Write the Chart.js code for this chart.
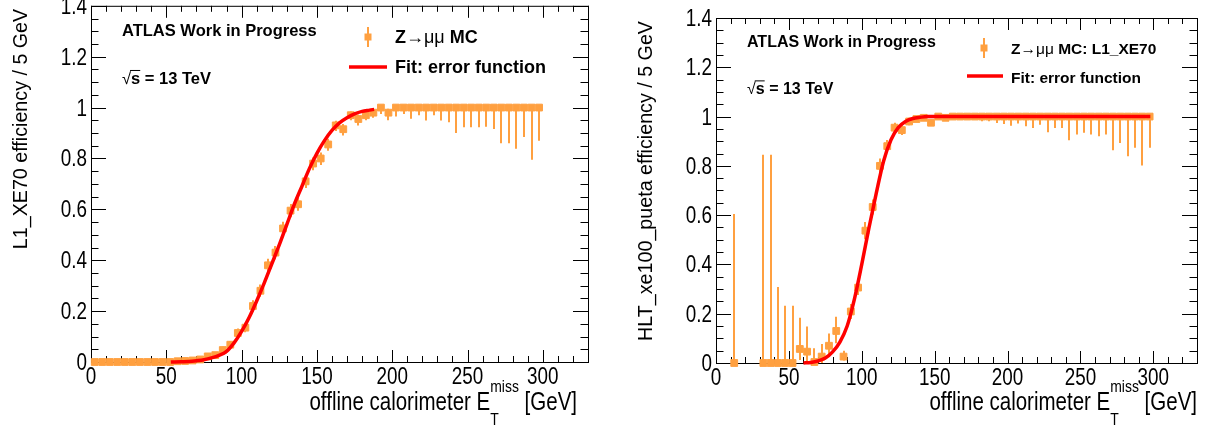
<!DOCTYPE html>
<html>
<head>
<meta charset="utf-8">
<script src="https://cdn.jsdelivr.net/npm/chart.js@4.4.1/dist/chart.umd.min.js"></script>
<style>
  html, body { margin: 0; padding: 0; background: #fff; }
  #wrap { position: relative; width: 1219px; height: 432px; }
  canvas { position: absolute; top: 0; }
  #chartL { left: 0; }
  #chartR { left: 610px; }
</style>
</head>
<body>
<div id="wrap">
  <canvas id="chartL" width="610" height="432"></canvas>
  <canvas id="chartR" width="609" height="432"></canvas>
</div>
<script>
// 5 GeV bins of offline calorimeter MET
const binCenters = [2.5, 7.5, 12.5, 17.5, 22.5, 27.5, 32.5, 37.5, 42.5, 47.5,
  52.5, 57.5, 62.5, 67.5, 72.5, 77.5, 82.5, 87.5, 92.5, 97.5,
  102.5, 107.5, 112.5, 117.5, 122.5, 127.5, 132.5, 137.5, 142.5, 147.5,
  152.5, 157.5, 162.5, 167.5, 172.5, 177.5, 182.5, 187.5, 192.5, 197.5,
  202.5, 207.5, 212.5, 217.5, 222.5, 227.5, 232.5, 237.5, 242.5, 247.5,
  252.5, 257.5, 262.5, 267.5, 272.5, 277.5, 282.5, 287.5, 292.5, 297.5];

// L1_XE70 efficiency (left panel)
const l1Eff = [0, 0, 0, 0, 0, 0, 0, 0, 0, 0,
  0, 0.003, 0.004, 0.006, 0.01, 0.022, 0.027, 0.047, 0.068, 0.114,
  0.135, 0.22, 0.28, 0.38, 0.43, 0.525, 0.595, 0.62, 0.71, 0.78,
  0.80, 0.855, 0.93, 0.915, 0.97, 0.955, 0.97, 0.98, 1, 0.98,
  1, 1, 1, 1, 1, 1, 1, 1, 1, 1,
  1, 1, 1, 1, 1, 1, 1, 1, 1, 1];
const l1ErrLo = [0, 0, 0, 0, 0, 0, 0, 0, 0, 0,
  0, 0.003, 0.004, 0.005, 0.006, 0.008, 0.01, 0.012, 0.014, 0.017,
  0.018, 0.022, 0.024, 0.026, 0.026, 0.026, 0.026, 0.026, 0.026, 0.026,
  0.026, 0.025, 0.022, 0.025, 0.02, 0.025, 0.02, 0.02, 0.025, 0.03,
  0.035, 0.025, 0.044, 0.03, 0.051, 0.03, 0.051, 0.058, 0.10, 0.077,
  0.077, 0.077, 0.075, 0.084, 0.14, 0.14, 0.162, 0.116, 0.205, 0.13];
const l1ErrHi = [0, 0, 0, 0, 0, 0, 0, 0, 0, 0,
  0, 0.004, 0.005, 0.006, 0.007, 0.009, 0.011, 0.013, 0.015, 0.018,
  0.019, 0.023, 0.025, 0.026, 0.026, 0.026, 0.026, 0.026, 0.025, 0.024,
  0.023, 0.022, 0.018, 0.02, 0.015, 0.018, 0.014, 0.012, 0, 0.015,
  0, 0, 0, 0, 0, 0, 0, 0, 0, 0,
  0, 0, 0, 0, 0, 0, 0, 0, 0, 0];
const l1FitX = [53, 60, 65, 70, 75, 80, 85, 90, 95, 100, 105, 110, 115, 120,
  125, 130, 135, 140, 145, 150, 155, 160, 165, 170, 175, 180, 185, 188];
const l1FitY = [0, 0.001, 0.002, 0.005, 0.009, 0.016, 0.026, 0.042, 0.075, 0.12, 0.175, 0.24, 0.31, 0.385,
  0.46, 0.54, 0.62, 0.69, 0.76, 0.82, 0.87, 0.91, 0.94, 0.96, 0.975, 0.985, 0.99, 0.993];

// HLT_xe100_pueta efficiency (right panel), null = empty bin
const hltEff = [null, null, 0, null, null, null, 0, 0, 0, 0,
  0, 0.057, 0.046, 0.004, 0.026, 0.07, 0.13, 0.026, 0.209, 0.306,
  0.537, 0.633, 0.80, 0.88, 0.955, 0.945, 0.98, 0.99, 0.995, 0.975,
  1, 0.995, 1, 1, 1, 1, 1, 1, 1, 1,
  1, 1, 1, 1, 1, 1, 1, 1, 1, 1,
  1, 1, 1, 1, 1, 1, 1, 1, 1, 1];
const hltErrLo = [0, 0, 0, 0, 0, 0, 0, 0, 0, 0,
  0, 0.045, 0.046, 0.004, 0.026, 0.044, 0.05, 0.016, 0.03, 0.03,
  0.035, 0.03, 0.03, 0.025, 0.02, 0.02, 0.015, 0.01, 0.008, 0.012,
  0.005, 0.005, 0.005, 0.005, 0.005, 0.01, 0.019, 0.019, 0.026, 0.03,
  0.037, 0.028, 0.039, 0.046, 0.033, 0.064, 0.046, 0.046, 0.096, 0.073,
  0.066, 0.073, 0.08, 0.073, 0.137, 0.107, 0.161, 0.127, 0.199, 0.127];
const hltErrHi = [0, 0, 0.605, 0, 0, 0, 0.845, 0.845, 0.308, 0.232,
  0.232, 0.127, 0.102, 0.056, 0.051, 0.05, 0.058, 0.024, 0.03, 0.03,
  0.035, 0.03, 0.03, 0.025, 0.02, 0.02, 0.015, 0.01, 0.005, 0.012,
  0, 0.005, 0, 0, 0, 0, 0, 0, 0, 0,
  0, 0, 0, 0, 0, 0, 0, 0, 0, 0,
  0, 0, 0, 0, 0, 0, 0, 0, 0, 0];
const hltFitX = [60, 65, 70, 75, 80, 85, 90, 95, 100, 105, 110, 115, 120, 125,
  130, 135, 140, 145, 150, 200, 250, 298];
const hltFitY = [0, 0.002, 0.008, 0.02, 0.045, 0.085, 0.15, 0.26, 0.40, 0.55, 0.69, 0.82, 0.905, 0.955,
  0.98, 0.992, 0.997, 1, 1, 1, 1, 1];

// axis ticks
const xTickValues = [0, 50, 100, 150, 200, 250, 300];
const xTickLabels = ['0', '50', '100', '150', '200', '250', '300'];
const yTickValues = [0, 0.2, 0.4, 0.6, 0.8, 1, 1.2, 1.4];
const yTickLabels = ['0', '0.2', '0.4', '0.6', '0.8', '1', '1.2', '1.4'];

const ORANGE = '#ffa040';
const RED = '#ff0000';
const SANS = "'Liberation Sans', Arial, Helvetica, sans-serif";
const NARROW_K = 0.82; // ROOT axis font looks condensed

function toPoints(eff, lo, hi) {
    const pts = [];
    binCenters.forEach((x, i) => {
        if (eff[i] === null) return;
        pts.push({ x: x, y: eff[i], lo: lo[i], hi: hi[i] });
    });
    return pts;
}

function toLine(xs, ys) {
    return xs.map((x, i) => ({ x: x, y: ys[i] }));
}

// condensed text: measured and drawn with a horizontal squeeze
function narrowWidth(ctx, text, size) {
    ctx.font = size + 'px ' + SANS;
    return ctx.measureText(text).width * NARROW_K;
}
function narrowText(ctx, text, x, y, size, align) {
    const w = narrowWidth(ctx, text, size);
    let left = x;
    if (align === 'right') left = x - w;
    else if (align === 'center') left = x - w / 2;
    ctx.save();
    ctx.translate(left, y);
    ctx.scale(NARROW_K, 1);
    ctx.textAlign = 'left';
    ctx.fillText(text, 0, 0);
    ctx.restore();
    return w;
}

function drawRuns(ctx, runs, x, y) {
    let cx = x;
    runs.forEach(r => {
        ctx.font = r.font;
        ctx.fillText(r.text, cx, y);
        cx += ctx.measureText(r.text).width;
    });
    return cx;
}

// ROOT style frame with inward ticks on all four sides
const rootFrame = {
    id: 'rootFrame',
    beforeDatasetsDraw(chart) {
        const { ctx, chartArea: a } = chart;
        const xs = chart.scales.x, ys = chart.scales.y;
        ctx.save();
        ctx.strokeStyle = '#000';
        ctx.lineWidth = 1;
        ctx.strokeRect(a.left + 0.5, a.top + 0.5, a.right - a.left, a.bottom - a.top);
        ctx.beginPath();
        for (let v = 0; v <= 330; v += 10) {
            const px = Math.round(xs.getPixelForValue(v)) + 0.5;
            const len = v % 50 === 0 ? 12 : 6;
            ctx.moveTo(px, a.bottom); ctx.lineTo(px, a.bottom - len);
            ctx.moveTo(px, a.top); ctx.lineTo(px, a.top + len);
        }
        for (let k = 0; k <= 28; k++) {
            const py = Math.round(ys.getPixelForValue(k * 0.05)) + 0.5;
            const len = k % 4 === 0 ? 15 : 7.5;
            ctx.moveTo(a.left, py); ctx.lineTo(a.left + len, py);
            ctx.moveTo(a.right, py); ctx.lineTo(a.right - len, py);
        }
        ctx.stroke();
        ctx.restore();
    }
};

// vertical error bars taken from the lo/hi fields of each point
const errorBars = {
    id: 'errorBars',
    beforeDatasetsDraw(chart) {
        const ctx = chart.ctx;
        const xs = chart.scales.x, ys = chart.scales.y;
        chart.data.datasets.forEach(ds => {
            if (!ds.errorBars) return;
            ctx.save();
            ctx.strokeStyle = ds.borderColor;
            ctx.lineWidth = 2;
            ctx.beginPath();
            ds.data.forEach(p => {
                if (!p.lo && !p.hi) return;
                const px = Math.round(xs.getPixelForValue(p.x));
                ctx.moveTo(px, ys.getPixelForValue(p.y - p.lo));
                ctx.lineTo(px, ys.getPixelForValue(p.y + p.hi));
            });
            ctx.stroke();
            ctx.restore();
        });
    }
};

function panelText(p) {
    return {
        id: 'panelText',
        afterDraw(chart) {
            const { ctx, chartArea: a } = chart;
            const xs = chart.scales.x, ys = chart.scales.y;
            ctx.save();
            ctx.fillStyle = '#000';
            ctx.textBaseline = 'alphabetic';
            ctx.textAlign = 'left';

            // tick labels
            xTickValues.forEach((v, i) => {
                narrowText(ctx, xTickLabels[i], xs.getPixelForValue(v), a.bottom + 22, 23, 'center');
            });
            yTickValues.forEach((v, i) => {
                narrowText(ctx, yTickLabels[i], a.left - 4, ys.getPixelForValue(v) + 8, 23, 'right');
            });

            // y axis title, rotated and pushed to the top
            ctx.save();
            ctx.font = p.yTitleSize + 'px ' + SANS;
            ctx.translate(p.yTitleX, a.top + 3);
            ctx.rotate(-Math.PI / 2);
            ctx.textAlign = 'right';
            ctx.fillText(p.yTitle, 0, 0);
            ctx.restore();

            // x axis title, right aligned: offline calorimeter E_T^miss [GeV]
            const w1 = narrowWidth(ctx, 'offline calorimeter E', 25);
            const w2 = narrowWidth(ctx, 'miss', 17);
            const w3 = narrowWidth(ctx, ' [GeV]', 25);
            const x0 = p.xTitleRight - (w1 + w2 + w3);
            const y0 = p.xTitleY;
            narrowText(ctx, 'offline calorimeter E', x0, y0, 25, 'left');
            narrowText(ctx, 'miss', x0 + w1, y0 - 18, 17, 'left');
            narrowText(ctx, 'T', x0 + w1, y0 + 15, 17, 'left');
            narrowText(ctx, ' [GeV]', x0 + w1 + w2, y0, 25, 'left');

            // ATLAS label
            ctx.font = 'bold ' + p.atlasSize + 'px ' + SANS;
            ctx.fillText('ATLAS Work in Progress', p.atlasX, p.atlasY);
            ctx.font = p.atlasSize + 'px ' + SANS;
            const wRoot = ctx.measureText('√').width;
            ctx.fillText('√', p.atlasX, p.sqrtY);
            ctx.font = 'bold ' + p.atlasSize + 'px ' + SANS;
            const wS = ctx.measureText('s').width;
            ctx.fillText('s = 13 TeV', p.atlasX + wRoot, p.sqrtY);
            ctx.strokeStyle = '#000';
            ctx.lineWidth = 1;
            ctx.beginPath();
            ctx.moveTo(p.atlasX + wRoot - 1, p.sqrtY - p.atlasSize * 0.82);
            ctx.lineTo(p.atlasX + wRoot + wS, p.sqrtY - p.atlasSize * 0.82);
            ctx.stroke();

            // legend
            const m = p.legMarker;
            ctx.strokeStyle = ORANGE;
            ctx.lineWidth = 2;
            ctx.beginPath();
            ctx.moveTo(m.x, m.y - 10); ctx.lineTo(m.x, m.y + 10);
            ctx.stroke();
            ctx.fillStyle = ORANGE;
            ctx.fillRect(m.x - 3.5, m.y - 3.5, 7, 7);
            ctx.strokeStyle = RED;
            ctx.lineWidth = 3.5;
            ctx.beginPath();
            ctx.moveTo(p.legLine.x0, p.legLine.y); ctx.lineTo(p.legLine.x1, p.legLine.y);
            ctx.stroke();
            ctx.fillStyle = '#000';
            const fb = 'bold ' + p.legSize + 'px ' + SANS;
            const fn = p.legSize + 'px ' + SANS;
            drawRuns(ctx, [
                { text: 'Z', font: fb },
                { text: '→μμ', font: fn },
                { text: ' MC' + p.legSuffix, font: fb }
            ], p.legX, p.legY1);
            ctx.font = fb;
            ctx.fillText('Fit: error function', p.legX, p.legY2);
            ctx.restore();
        }
    };
}

function makePanel(id, p) {
    const ctx = document.getElementById(id);
    new Chart(ctx, {
        type: 'scatter',
        data: {
            datasets: [{
                label: 'Fit: error function',
                data: toLine(p.fitX, p.fitY),
                showLine: true,
                borderColor: RED,
                borderWidth: 3.5,
                pointRadius: 0,
                cubicInterpolationMode: 'monotone',
                order: 0,
                clip: false
            }, {
                label: 'Z→μμ MC',
                data: toPoints(p.eff, p.errLo, p.errHi),
                errorBars: true,
                pointStyle: 'rect',
                pointRadius: 4.8,
                backgroundColor: ORANGE,
                borderColor: ORANGE,
                borderWidth: 1,
                order: 1,
                clip: false
            }]
        },
        options: {
            responsive: false,
            animation: false,
            events: [],
            layout: { padding: { top: p.top, right: 22, left: 0, bottom: 0 } },
            plugins: {
                legend: { display: false },
                tooltip: { enabled: false }
            },
            scales: {
                x: {
                    type: 'linear',
                    min: 0,
                    max: 330,
                    grid: { display: false, drawTicks: false },
                    border: { display: false },
                    ticks: { display: false, includeBounds: false },
                    afterBuildTicks: s => { s.ticks = xTickValues.map(v => ({ value: v })); },
                    afterFit: s => { s.height = p.xAxisH; s.paddingLeft = 0; s.paddingRight = 0; }
                },
                y: {
                    type: 'linear',
                    min: 0,
                    max: 1.4,
                    grid: { display: false, drawTicks: false },
                    border: { display: false },
                    ticks: { display: false, includeBounds: false },
                    afterBuildTicks: s => { s.ticks = yTickValues.map(v => ({ value: v })); },
                    afterFit: s => { s.width = p.yAxisW; s.paddingTop = 0; s.paddingBottom = 0; }
                }
            }
        },
        plugins: [rootFrame, errorBars, panelText(p)]
    });
}

makePanel('chartL', {
    eff: l1Eff, errLo: l1ErrLo, errHi: l1ErrHi, fitX: l1FitX, fitY: l1FitY,
    top: 5, yAxisW: 91, xAxisH: 70,
    yTitle: 'L1_XE70 efficiency / 5 GeV', yTitleX: 27, yTitleSize: 19.7,
    atlasX: 122, atlasY: 36, sqrtY: 84, atlasSize: 16.5,
    legMarker: { x: 368, y: 37 }, legLine: { x0: 349, x1: 387, y: 67 },
    legX: 395, legY1: 43, legY2: 73, legSize: 18, legSuffix: '',
    xTitleRight: 577, xTitleY: 410
});

makePanel('chartR', {
    eff: hltEff, errLo: hltErrLo, errHi: hltErrHi, fitX: hltFitX, fitY: hltFitY,
    top: 18, yAxisW: 106, xAxisH: 69,
    yTitle: 'HLT_xe100_pueta efficiency / 5 GeV', yTitleX: 42, yTitleSize: 19.7,
    atlasX: 137, atlasY: 47, sqrtY: 94, atlasSize: 16,
    legMarker: { x: 374, y: 48 }, legLine: { x0: 357, x1: 393, y: 76 },
    legX: 401, legY1: 54, legY2: 83, legSize: 15.5, legSuffix: ': L1_XE70',
    xTitleRight: 587, xTitleY: 410
});
</script>
</body>
</html>
